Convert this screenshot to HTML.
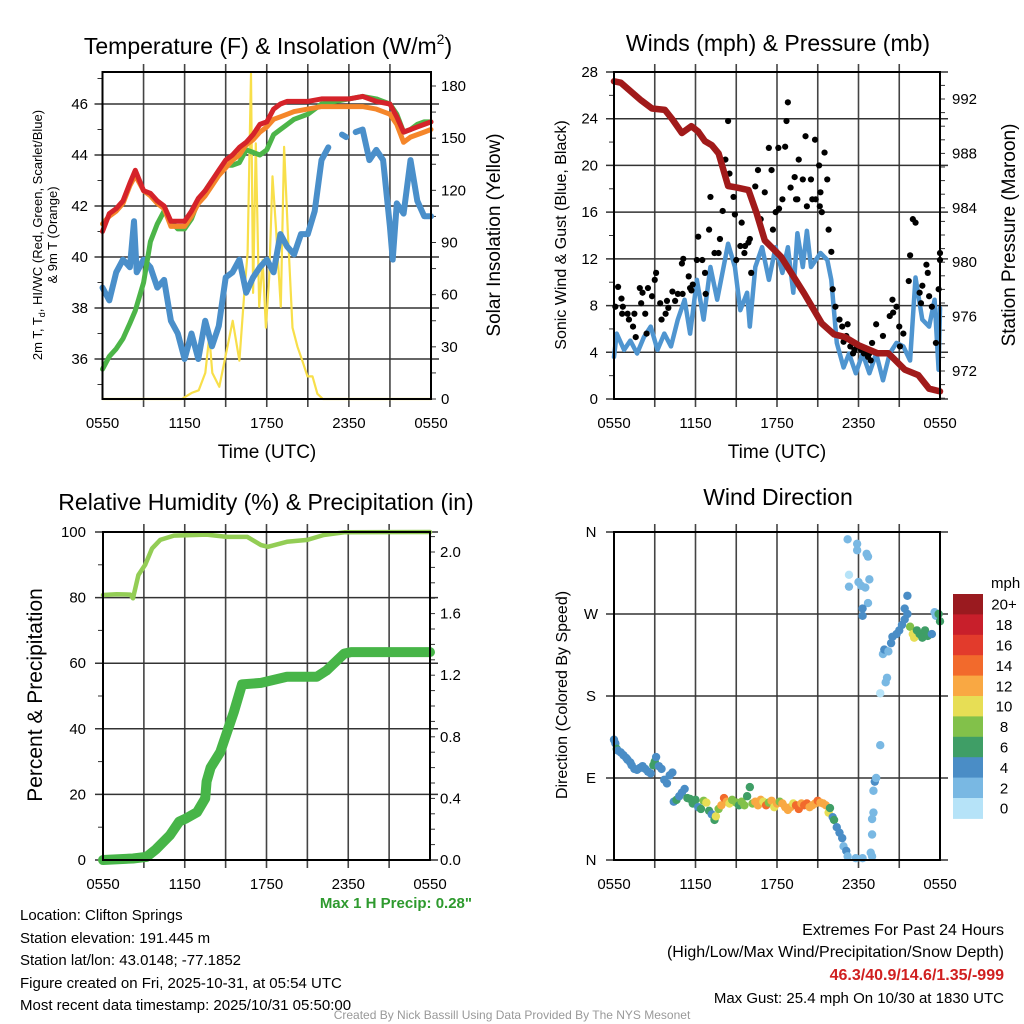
<!DOCTYPE html>
<html><head><meta charset="utf-8"><title>NYS Mesonet Meteogram</title>
<style>
html,body{margin:0;padding:0;background:#fff;}
svg{display:block;font-family:"Liberation Sans",Arial,sans-serif;}
</style></head>
<body>
<svg id="chart" width="1024" height="1024" viewBox="0 0 1024 1024" xmlns="http://www.w3.org/2000/svg">
<rect x="0" y="0" width="1024" height="1024" fill="#fff"/>
<g id="layer"></g>
<!-- titles -->
<text x="268" y="54" font-size="23" text-anchor="middle">Temperature (F) &amp; Insolation (W/m<tspan font-size="14" dy="-10">2</tspan><tspan dy="10">)</tspan></text>
<text x="778" y="51" font-size="23" text-anchor="middle">Winds (mph) &amp; Pressure (mb)</text>
<text x="266" y="510" font-size="23" text-anchor="middle">Relative Humidity (%) &amp; Precipitation (in)</text>
<text x="778" y="505" font-size="23" text-anchor="middle">Wind Direction</text>
<!-- axis titles -->
<text x="267" y="458" font-size="19" text-anchor="middle">Time (UTC)</text>
<text x="777" y="458" font-size="19" text-anchor="middle">Time (UTC)</text>
<text transform="translate(42,235) rotate(-90)" font-size="13" text-anchor="middle">2m T, T<tspan font-size="9" dy="3">d</tspan><tspan dy="-3">, HI/WC (Red, Green, Scarlet/Blue)</tspan></text>
<text transform="translate(57,235) rotate(-90)" font-size="13" text-anchor="middle">&amp; 9m T (Orange)</text>
<text transform="translate(500,235) rotate(-90)" font-size="19" text-anchor="middle">Solar Insolation (Yellow)</text>
<text transform="translate(566,235) rotate(-90)" font-size="16" text-anchor="middle">Sonic Wind &amp; Gust (Blue, Black)</text>
<text transform="translate(1015,235) rotate(-90)" font-size="19" text-anchor="middle">Station Pressure (Maroon)</text>
<text transform="translate(42,695) rotate(-90)" font-size="21" text-anchor="middle">Percent &amp; Precipitation</text>
<text transform="translate(567,695) rotate(-90)" font-size="16" text-anchor="middle">Direction (Colored By Speed)</text>
<!-- info text -->
<text x="472" y="908" font-size="15" font-weight="bold" fill="#2e9a2e" text-anchor="end">Max 1 H Precip: 0.28"</text>
<g font-size="15">
<text x="20" y="920">Location: Clifton Springs</text>
<text x="20" y="943">Station elevation: 191.445 m</text>
<text x="20" y="965">Station lat/lon: 43.0148; -77.1852</text>
<text x="20" y="988">Figure created on Fri, 2025-10-31, at 05:54 UTC</text>
<text x="20" y="1010">Most recent data timestamp: 2025/10/31 05:50:00</text>
</g>
<g font-size="16" text-anchor="end">
<text x="1004" y="935">Extremes For Past 24 Hours</text>
<text x="1004" y="957">(High/Low/Max Wind/Precipitation/Snow Depth)</text>
<text x="1004" y="980" font-weight="bold" fill="#d02020">46.3/40.9/14.6/1.35/-999</text>
<text x="1004" y="1003" font-size="15">Max Gust: 25.4 mph On 10/30 at 1830 UTC</text>
</g>
<text x="512" y="1019" font-size="12" fill="#999" text-anchor="middle">Created By Nick Bassill Using Data Provided By The NYS Mesonet</text>
</svg>
<script>
// ---------- DATA ----------
var xTickLabels = ["0550","1150","1750","2350","0550"];
// Panel 1: temperature (hours since 0550)
var tT = [0,0.5,1,1.5,2,2.4,3,3.5,4,4.5,5,5.5,6,6.5,7,7.5,8,8.5,9,9.5,10,10.5,11,11.5,12,12.5,13,13.5,14,15,16,17,18,19,20,21,21.5,22,22.5,23,23.5,24];
var tempRed =    [41.0,41.7,41.9,42.2,42.9,43.4,42.6,42.5,42.2,42.0,41.4,41.4,41.4,41.8,42.3,42.6,43.0,43.4,43.8,44.0,44.3,44.5,44.8,45.2,45.3,45.8,46.0,46.1,46.1,46.1,46.2,46.2,46.2,46.3,46.1,46.0,45.5,44.9,45.0,45.1,45.2,45.3];
var tempOrange = [41.3,41.6,41.8,42.1,42.8,43.2,42.6,42.4,42.1,41.9,41.2,41.2,41.2,41.6,42.1,42.4,42.8,43.2,43.5,43.8,44.0,44.4,44.6,44.9,45.1,45.4,45.5,45.6,45.7,45.8,45.9,45.9,45.9,45.9,45.8,45.6,45.2,44.5,44.7,44.8,44.9,45.0];
var tempGreen =  [35.6,36.1,36.4,36.8,37.4,37.9,39.0,40.6,41.3,41.8,41.4,41.1,41.1,41.5,42.2,42.6,43.0,43.3,43.6,43.6,43.7,44.2,44.1,44.0,44.2,44.8,45.0,45.2,45.4,45.6,46.0,46.1,46.2,46.3,46.2,46.0,45.6,44.9,45.0,45.2,45.3,45.3];
var tHI = [0,0.5,1,1.5,2,2.3,2.5,3,3.5,4,4.5,5,5.5,6,6.5,7,7.5,8,8.5,9,9.5,10,10.5,11,11.5,12,12.5,13,13.5,14,14.5,15,15.5,16,16.5,16.6,17.5,17.8,17.9,18.4,18.5,19,19.5,20,20.5,21,21.2,21.5,22,22.5,23,23.5,24];
var tempHI = [38.8,38.3,39.4,39.9,39.6,41.4,39.4,39.9,39.6,38.8,39.1,37.5,37.0,36.0,37.0,36.0,37.5,36.5,37.3,39.2,39.4,39.9,38.6,39.2,39.6,39.9,39.4,40.9,40.4,40.1,40.9,40.9,41.8,43.8,44.3,null,44.8,44.7,null,null,44.9,45.0,43.8,44.2,43.8,41.2,39.9,42.1,41.7,43.8,42.2,41.6,41.6];
var tSolar = [0,5.8,6.2,6.52,7.03,7.51,7.8,8.02,8.53,9.02,9.51,10.0,10.36,10.6,10.85,11.0,11.2,11.45,11.7,11.94,12.18,12.42,12.67,13.03,13.27,13.52,13.88,14.25,14.6,14.98,15.34,15.7,16.1,24];
var solar =  [0,0,2,3.5,5,15,36,15,7,26,45,22,61,84,187,61,147,53,80,41,70,128,99,53,145,99,41,30,22,13,13,3,0,0];
// Panel 2: winds & pressure
var tW = [0,0.2,0.74,1.2,1.7,2.2,2.7,3.2,3.7,4.2,4.7,5.2,5.6,6.1,6.6,7.1,7.6,8.4,8.9,9.3,9.8,10.0,10.4,10.9,11.4,11.9,12.4,12.8,13.2,13.5,13.9,14.2,14.5,15.2,15.7,16.0,16.4,16.9,17.3,17.8,18.3,18.8,19.3,19.8,20.3,20.8,21.3,21.8,22.2,22.7,23.2,23.6,23.9,24.0];
var wind = [3.6,5.6,4.2,5.0,3.9,5.3,6.2,4.2,5.6,4.5,6.8,8.5,5.6,10.2,6.8,11.3,8.5,13.3,11.3,7.6,9.1,6.2,11.3,13.0,10.2,13.0,10.8,13.0,9.1,14.2,11.3,14.4,11.3,12.5,11.9,10.2,4.8,2.7,3.9,2.2,3.9,2.2,3.9,1.6,3.9,4.8,4.5,3.3,10.4,6.8,6.2,8.5,2.5,7.8];
var tGust = [0.1,0.3,0.55,0.6,0.65,1.0,1.1,1.4,1.5,1.6,1.9,2.0,2.1,2.3,2.4,2.5,3.0,3.1,2.8,3.4,3.5,3.8,3.9,4.0,4.3,4.5,4.7,5.0,5.05,5.1,5.5,5.6,5.7,5.8,6.1,6.2,6.5,6.7,6.75,7.0,7.1,7.4,7.7,7.8,8.0,8.2,8.4,8.5,8.8,8.9,9.0,9.3,9.4,9.6,9.65,9.9,10.0,10.1,10.4,10.6,10.8,11.1,11.4,11.6,11.7,11.9,12.1,12.15,12.4,12.6,12.7,12.8,13.0,13.3,13.4,13.5,13.6,13.9,14.1,14.2,14.5,14.6,14.8,14.85,15.1,15.15,15.2,15.3,15.5,15.7,15.8,16.0,16.1,16.3,16.6,16.8,16.9,17.1,17.2,17.4,17.6,17.7,17.9,18.2,18.4,18.7,18.8,18.9,19.0,19.3,19.6,19.8,20.3,20.5,20.55,20.8,21.0,21.05,21.3,21.7,21.8,22.0,22.2,22.5,22.6,22.7,23.0,23.1,23.2,23.4,23.7,23.9,24.0,24.05];
var gust = [7.9,9.6,8.6,7.3,7.9,7.3,6.8,6.2,7.3,5.3,9.5,8.2,9.1,7.3,5.6,9.5,10.2,10.8,8.8,8.2,6.8,7.3,8.4,7.8,9.2,8.4,9.0,11.6,9.0,12.0,10.5,9.5,9.3,9.8,11.9,13.9,11.9,10.8,9.0,14.5,17.3,12.5,12.5,13.7,16.1,20.5,23.8,19.3,17.3,15.8,11.9,13.1,15.1,12.5,13.1,13.4,13.7,10.8,18.2,19.6,15.4,17.7,21.5,19.6,14.5,16.0,21.5,16.3,17.1,21.6,23.8,25.4,18.1,19.0,17.1,17.1,20.5,18.8,22.5,16.5,18.8,17.1,22.2,17.1,20.0,16.5,17.7,16.0,21.1,18.8,14.5,12.6,9.4,7.9,6.8,6.2,4.9,5.4,6.4,4.5,3.9,4.2,4.5,4.2,3.9,3.6,3.9,3.3,4.8,6.4,3.9,5.4,7.1,8.5,7.4,7.9,6.2,4.5,5.6,10.1,12.3,15.4,15.1,9.1,8.2,9.7,11.5,10.8,8.8,7.9,4.8,9.4,11.9,12.5];
var tP = [0,0.5,1.3,2.0,2.8,3.75,4.3,5.0,5.7,6.2,6.7,7.2,7.7,8.4,9.0,9.9,10.5,11.1,12.3,14.0,15.3,16.2,17.0,18.0,19.4,20.2,21.4,22.4,23.2,24];
var pressure = [993.3,993.2,992.5,991.9,991.3,991.2,990.5,989.5,990.0,989.6,988.9,988.6,988.0,985.6,985.5,985.3,983.6,981.6,980.4,977.7,975.5,974.7,974.5,973.9,973.3,973.3,972.1,971.7,970.7,970.5];
// Panel 3: humidity & precip
var tRH = [0,1,2,2.2,2.6,3.1,3.6,4.2,5.2,7.6,9.1,10.6,11.6,12.1,13.5,15,16.2,17.7,24];
var rh =  [80.8,81.0,80.9,79.8,86.9,90.0,95.0,97.6,98.9,99.2,98.5,98.5,96.0,95.5,97.0,97.6,99.1,99.9,100];
var tPr = [0,2.2,3.2,3.9,4.9,5.6,6.1,6.9,7.5,7.6,7.9,8.6,9.1,9.6,10.2,11.6,13.5,15.7,16.4,17.7,18.2,24];
var precip = [0,0.01,0.02,0.07,0.16,0.25,0.27,0.31,0.40,0.51,0.60,0.70,0.83,0.96,1.14,1.15,1.19,1.19,1.23,1.34,1.35,1.35];
// Panel 4: wind direction
var tDir = [0,0.1,0.2,0.3,0.5,0.7,0.9,1.0,1.2,1.3,1.5,1.7,1.9,2.1,2.3,2.5,2.7,2.9,3.0,3.1,3.3,3.5,3.7,3.9,4.1,4.3,4.4,4.6,4.8,5.0,5.2,5.4,5.6,5.8,6.0,6.2,6.4,6.6,6.8,7.0,7.2,7.4,7.5,7.7,7.9,8.1,8.3,8.5,8.7,9.0,9.2,9.4,9.6,9.8,10.0,10.2,10.4,10.6,10.8,11.0,11.2,11.4,11.6,11.8,12.0,12.2,12.4,12.6,12.8,13.0,13.2,13.4,13.6,13.8,14.0,14.2,14.4,14.6,14.8,15.0,15.2,15.4,15.6,15.8,15.9,16.1,16.2,16.4,16.6,16.8,16.9,17.1,17.2,17.8,18.3,19.0,17.2,17.9,17.9,18.6,18.7,17.3,17.3,18.0,18.2,18.5,18.8,18.7,18.3,18.3,18.9,19.0,19.0,19.1,19.1,19.2,19.3,19.6,19.6,20.0,20.1,19.8,19.9,20.2,20.4,20.5,20.8,21.0,21.2,21.4,21.6,21.4,21.6,21.8,22.0,22.1,22.3,22.5,22.7,22.9,23.1,23.4,23.6,23.7,23.9,24.0];
var dirDeg = [132,128,122,120,118,115,112,110,107,104,100,99,101,103,100,97,95,104,108,113,103,100,88,84,93,96,64,66,70,74,78,68,67,62,66,58,56,65,63,54,50,44,48,56,60,68,64,62,66,63,60,64,60,70,80,62,64,60,66,64,60,63,65,58,62,64,62,58,55,58,62,60,56,62,60,62,58,60,62,65,63,62,60,52,57,47,44,36,30,24,15,10,4,2,2,4,352,347,340,336,333,313,300,305,301,299,308,282,276,268,8,28,45,52,76,86,90,126,183,195,200,226,231,229,238,245,248,252,258,264,290,276,270,256,248,244,252,248,244,252,246,248,272,268,270,262];
var dirSpeed = [5,4,6,5,4,5,4,5,4,5,4,5,4,5,4,5,4,6,7,5,5,5,4,5,4,4,5,6,4,5,4,6,6,7,7,5,7,8,10,6,5,6,10,9,12,15,12,10,8,8,7,9,9,7,6,8,12,13,12,10,15,8,12,10,12,8,12,12,12,13,11,15,15,12,14,15,12,13,12,15,12,12,13,10,7,4,6,4,4,4,3,4,3,3,3,3,3,3,3,3,3,1,3,3,3,3,3,3,4,4,3,3,3,3,3,4,3,3,1,3,3,3,4,3,4,4,4,4,4,4,4,4,4,8,10,10,6,6,6,6,6,4,3,3,6,6];
var speedLabels = ["0","2","4","6","8","10","12","14","16","18","20+"];

// ---------- STYLE ----------
var speedColors = ["#b6e3f8","#79b8e3","#4a8dc6","#3f9e66","#82c14a","#e7de55","#f9a843","#f26a2c","#e23b2c","#c81f2b","#9a1a1f"];
var NS = "http://www.w3.org/2000/svg";
var layer = document.getElementById("layer");
function mk(tag, attrs, parent){
  var e = document.createElementNS(NS, tag);
  for (var k in attrs) e.setAttribute(k, attrs[k]);
  (parent || layer).appendChild(e);
  return e;
}
function lin(d0,d1,r0,r1){ return function(v){ return r0 + (v-d0)*(r1-r0)/(d1-d0); }; }

var P1 = {x0:102.5,x1:431,y0:72,y1:399};
var P2 = {x0:614,x1:940,y0:72,y1:399};
var P3 = {x0:103,x1:430,y0:532,y1:860};
var P4 = {x0:614,x1:940,y0:532,y1:860};

function timeAxis(P, name){
  var sx = lin(0,24,P.x0,P.x1);
  for (var h=3; h<24; h+=3){
    var g = mk("line",{x1:sx(h),x2:sx(h),y1:P.y0-8,y2:P.y1+8,stroke:"#444","stroke-width":1.6});
    
    
  }
  for (var i=0;i<xTickLabels.length;i++){
    var tx = mk("text",{x:sx(i*6),y:P.y1+29,"font-size":15,"text-anchor":"middle"});
    tx.textContent = xTickLabels[i];
    
    
  }
  return sx;
}
function hGrid(P, ys, name){
  ys.forEach(function(y){
    var g = mk("line",{x1:P.x0-8,x2:P.x1+8,y1:y,y2:y,stroke:"#333","stroke-width":1.5});
    
    
  });
}
function frame(P, name){
  var r = mk("rect",{x:P.x0,y:P.y0,width:P.x1-P.x0,height:P.y1-P.y0,fill:"none",stroke:"#000","stroke-width":2});
  
  
}
function minorTicks(P, ys, side, name){
  ys.forEach(function(y){
    var x = side=="left" ? P.x0 : P.x1;
    var t = mk("line",{x1:x,x2:side=="left"?x-5:x+5,y1:y,y2:y,stroke:"#333","stroke-width":1});
    
    
  });
}
function tickLabel(x,y,txt,anchor,name){
  var t = mk("text",{x:x,y:y+5,"font-size":15,"text-anchor":anchor});
  t.textContent = txt;
  
  
}
function pathFrom(ts, vs, sx, sy){
  var d = "", pen=false;
  for (var i=0;i<ts.length;i++){
    if (vs[i]===null){ pen=false; continue; }
    d += (pen?"L":"M") + sx(ts[i]).toFixed(1) + "," + sy(vs[i]).toFixed(1);
    pen = true;
  }
  return d;
}
function series(ts, vs, sx, sy, color, w, name){
  var p = mk("path",{d:pathFrom(ts,vs,sx,sy),fill:"none",stroke:color,"stroke-width":w,"stroke-linejoin":"round","stroke-linecap":"round"});
  
  
}

// ---------- PANEL 1 ----------
var sx1 = timeAxis(P1,"temp");
var sy1 = lin(36,46,359,104);
var syIns = lin(0,180,399,86);
var ticks1 = [36,38,40,42,44,46];
hGrid(P1, ticks1.map(sy1), "temp");
minorTicks(P1, [35,37,39,41,43,45,47].map(sy1), "left", "temp");
minorTicks(P1, [15,45,75,105,135,165].map(syIns), "right", "insolation");
minorTicks(P1, [0,30,60,90,120,150,180].map(syIns), "right", "insolation");
ticks1.forEach(function(v){ tickLabel(88, sy1(v), String(v), "end", "temp-y-tick-label"); });
[0,30,60,90,120,150,180].forEach(function(v){ tickLabel(441, syIns(v), String(v), "start", "insolation-tick-label"); });
series(tSolar, solar, sx1, syIns, "#f8df4a", 2.2, "insolation-line");
series(tHI, tempHI, sx1, sy1, "#4a8fca", 6, "heat-index-line");
series(tT, tempGreen, sx1, sy1, "#4cb548", 5, "dewpoint-line");
series(tT, tempOrange, sx1, sy1, "#f5862a", 5, "temp-9m-line");
series(tT, tempRed, sx1, sy1, "#d5232a", 5, "temp-2m-line");
frame(P1,"temp");

// ---------- PANEL 2 ----------
var sx2 = timeAxis(P2,"wind");
var syW = lin(0,28,399,72);
var syP = lin(972,992,371,99);
var ticksW = [0,4,8,12,16,20,24,28];
hGrid(P2, ticksW.map(syW), "wind");
minorTicks(P2, [2,6,10,14,18,22,26].map(syW), "left", "wind");
var pm = []; for (var q=970;q<=994;q++) pm.push(syP(q));
minorTicks(P2, pm.filter(function(y){return y>=P2.y0 && y<=P2.y1;}), "right", "pressure");
ticksW.forEach(function(v){ tickLabel(598, syW(v), String(v), "end", "wind-y-tick-label"); });
[972,976,980,984,988,992].forEach(function(v){ tickLabel(952, syP(v), String(v), "start", "pressure-tick-label"); });
series(tW, wind, sx2, syW, "#4f95d0", 4.5, "sonic-wind-line");
for (var i=0;i<tGust.length;i++){
  var c = mk("circle",{cx:sx2(Math.min(tGust[i],24)),cy:syW(gust[i]),r:3.1,fill:"#000"});
  
  
}
series(tP, pressure, sx2, syP, "#a11a1a", 6.5, "pressure-line");
frame(P2,"wind");

// ---------- PANEL 3 ----------
var sx3 = timeAxis(P3,"humidity");
var syRH = lin(0,100,860,532);
var syPr = lin(0,2,860,552);
hGrid(P3, [0,20,40,60,80,100].map(syRH), "humidity");
minorTicks(P3, [10,30,50,70,90].map(syRH), "left", "humidity");
var prm=[]; for (var k=0;k<=21;k++) prm.push(syPr(k*0.1));
minorTicks(P3, prm, "right", "precip");
[0,20,40,60,80,100].forEach(function(v){ tickLabel(86, syRH(v), String(v), "end", "humidity-tick-label"); });
[0,0.4,0.8,1.2,1.6,2.0].forEach(function(v){ tickLabel(440, syPr(v), v.toFixed(1), "start", "precip-tick-label"); });
series(tRH, rh, sx3, syRH, "#93cd55", 4.5, "humidity-line");
series(tPr, precip, sx3, syPr, "#47b548", 10, "precip-line");
frame(P3,"humidity");

// ---------- PANEL 4 ----------
var sx4 = timeAxis(P4,"direction");
var syD = lin(0,360,860,532);
hGrid(P4, [0,90,180,270,360].map(syD), "direction");
[["N",0],["E",90],["S",180],["W",270],["N",360]].forEach(function(a){ tickLabel(591, syD(a[1]), a[0], "middle", "direction-tick-label"); });
for (var j=0;j<tDir.length;j++){
  var bin = Math.min(10, Math.floor(dirSpeed[j]/2));
  var d = mk("circle",{cx:sx4(tDir[j]),cy:syD(dirDeg[j]),r:4.2,fill:speedColors[bin]});
  
  
}
frame(P4,"direction");

// colorbar
var cbTop = 594, cbH = 20.4;
var mph = mk("text",{x:991,y:588,"font-size":15});
mph.textContent = "mph";


for (var b=0;b<speedLabels.length;b++){
  var idx = speedLabels.length-1-b;
  var r = mk("rect",{x:953,y:cbTop+b*cbH,width:30,height:cbH+0.5,fill:speedColors[idx]});
  
  
  var t = mk("text",{x:1004,y:cbTop+b*cbH+cbH/2+5.5,"font-size":15,"text-anchor":"middle"});
  t.textContent = speedLabels[idx];
  
  
}
</script>
</body></html>
